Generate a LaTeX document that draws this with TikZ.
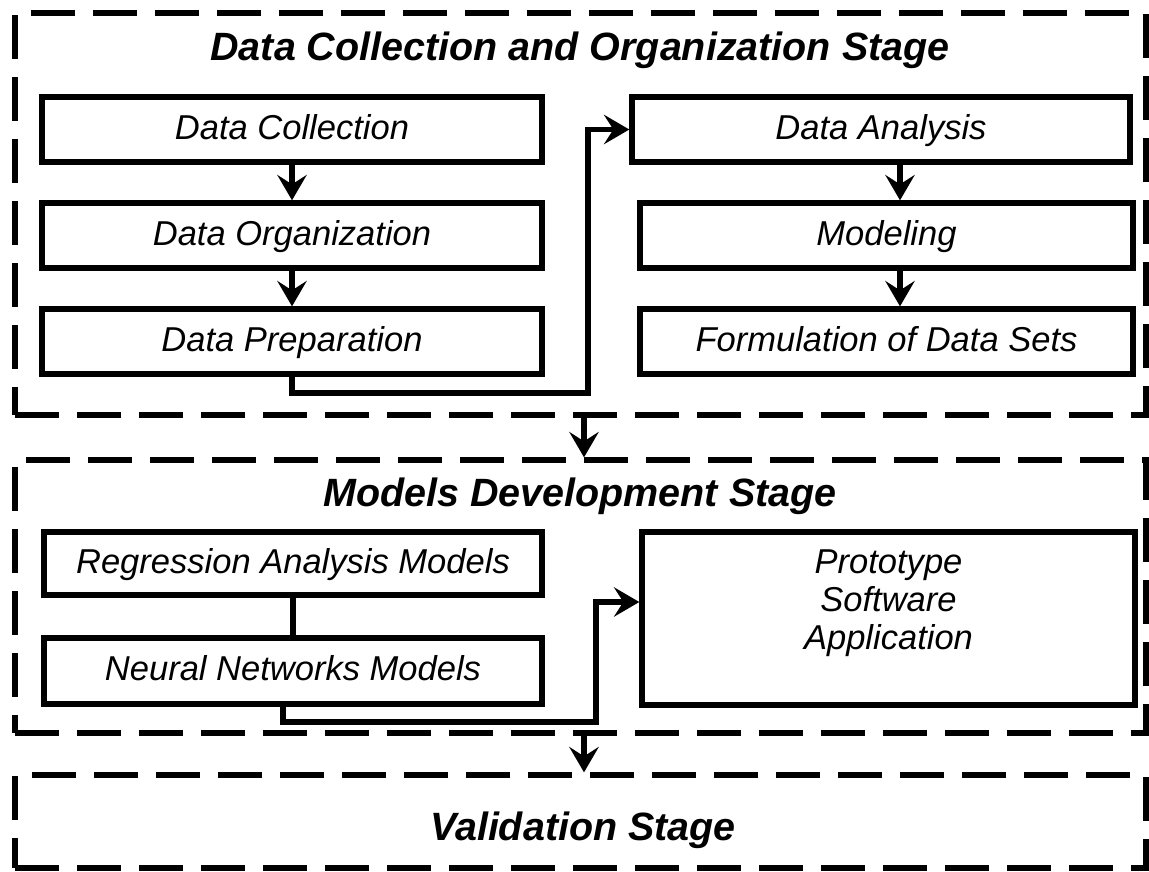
\documentclass[tikz,border=0pt]{standalone}
\usepackage{fontspec}
\setmainfont{Liberation Sans}
\usetikzlibrary{arrows.meta}
\begin{document}
\begin{tikzpicture}[x=0.75pt,y=-0.75pt,
  stage/.style={draw, line width=4pt, dash pattern=on 33pt off 13.5pt,
    minimum width=848.25pt, inner sep=0pt},
  proc/.style={draw, line width=4pt, inner sep=0pt, align=center,
    font=\fontsize{25.9pt}{28.3pt}\selectfont\itshape},
  oneline/.style={proc, text height=18.6pt, text depth=3.9pt},
  stagetitle/.style={anchor=base, inner sep=0pt,
    font=\fontsize{29.6pt}{32pt}\selectfont\bfseries\itshape},
  link/.style={line width=4pt},
  arr/.style={link, -{Stealth[length=19pt,width=22pt,inset=7pt]}},
]
\useasboundingbox (0,0) rectangle (1149,871);

% stage frames
\node[stage, minimum height=301.5pt] (S1) at (580.5,214) {};
\node[stage, minimum height=204.75pt] (S2) at (580.5,596.5) {};
\node[stage, minimum height=69.75pt] (S3) at (580.5,821.5) {};

% stage titles
\node[stagetitle] (T1) at (580,60) {Data Collection and Organization Stage};
\node[stagetitle] (T2) at (580,506) {Models Development Stage};
\node[stagetitle] (T3) at (583,840) {Validation Stage};

% data collection and organization steps
\node[oneline, minimum width=375pt, minimum height=48.75pt] (DC) at (292,129.5) {Data Collection};
\node[oneline, minimum width=375pt, minimum height=48.75pt] (DO) at (292,235.5) {Data Organization};
\node[oneline, minimum width=375pt, minimum height=48.75pt] (DP) at (292,341.5) {Data Preparation};
\node[oneline, minimum width=373.5pt, minimum height=48.75pt] (DA) at (881,129.5) {Data Analysis};
\node[oneline, minimum width=369.75pt, minimum height=48.75pt] (MO) at (886.5,235.5) {Modeling};
\node[oneline, minimum width=369.75pt, minimum height=48.75pt] (FD) at (886.5,341.5) {Formulation of Data Sets};

% models development
\node[oneline, minimum width=373.5pt, minimum height=47.25pt] (RA) at (293,563.5) {Regression Analysis Models};
\node[oneline, minimum width=373.5pt, minimum height=49.5pt] (NN) at (293,671) {Neural Networks Models};
\node[proc, minimum width=369.75pt, minimum height=129.75pt] (PSA) at (888.5,618.5)
  {Prototype\\Software\\Application\\~};

% routing helpers
\coordinate (rx) at (900,0);
\coordinate (sx) at (584,0);
\coordinate (j1) at (588,393);
\coordinate (nx) at (283,0);
\coordinate (j2) at (596,722);
\coordinate (py) at (0,602);

% connectors
\draw[arr] (DC.south) -- (DO.north);
\draw[arr] (DO.south) -- (DP.north);
\draw[arr] (DA.south -| rx) -- (MO.north -| rx);
\draw[arr] (MO.south -| rx) -- (FD.north -| rx);
\draw[arr] (DP.south) |- (j1) |- (DA.west);
\draw[link] (RA.south) -- (NN.north);
\draw[arr] (NN.south -| nx) |- (j2) |- (PSA.west |- py);
\draw[arr] (S1.south -| sx) -- (S2.north -| sx);
\draw[arr] (S2.south -| sx) -- (S3.north -| sx);
\end{tikzpicture}
\end{document}
